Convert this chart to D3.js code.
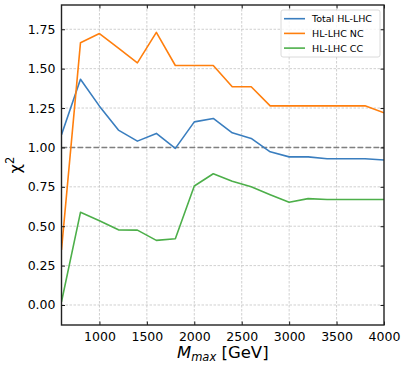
<!DOCTYPE html>
<html>
<head>
<meta charset="utf-8">
<script src="https://cdn.jsdelivr.net/npm/d3@7"></script>
<style>
  body { margin: 0; background: #fff; }
  text { font-family: "DejaVu Sans", sans-serif; }
</style>
</head>
<body>
<div id="chart"></div>
<script>
const mMax = [600, 800, 1000, 1200, 1400, 1600, 1800, 2000, 2200, 2400, 2600, 2800, 3000, 3200, 3400, 3600, 3800, 4000];
const totalHL = [1.08, 1.433, 1.262, 1.11, 1.04, 1.089, 0.994, 1.162, 1.184, 1.093, 1.057, 0.972, 0.94, 0.94, 0.928, 0.928, 0.928, 0.92];
const hlNC = [0.35, 1.664, 1.723, 1.63, 1.537, 1.73, 1.52, 1.52, 1.52, 1.385, 1.385, 1.264, 1.264, 1.264, 1.264, 1.264, 1.264, 1.22];
const hlCC = [0.02, 0.588, 0.535, 0.477, 0.475, 0.41, 0.42, 0.755, 0.833, 0.785, 0.75, 0.70, 0.652, 0.675, 0.67, 0.67, 0.67, 0.67];
const xTicks = [1000, 1500, 2000, 2500, 3000, 3500, 4000];
const yTicks = [0, 0.25, 0.5, 0.75, 1.0, 1.25, 1.5, 1.75];

const series = [
  { name: "Total HL-LHC", values: totalHL, color: "#3a7ebf" },
  { name: "HL-LHC NC", values: hlNC, color: "#ff7f0e" },
  { name: "HL-LHC CC", values: hlCC, color: "#4daf4a" }
];

const W = 407, H = 368;
const margin = { left: 61.5, right: 23, top: 5, bottom: 43 };
const iw = W - margin.left - margin.right;
const ih = H - margin.top - margin.bottom;

const svg = d3.select("#chart").append("svg")
  .attr("width", W).attr("height", H);
const g = svg.append("g").attr("transform", `translate(${margin.left},${margin.top})`);

const x = d3.scaleLinear().domain([600, 4000]).range([0, iw]);
const y = d3.scaleLinear().domain([-0.127, 1.904]).range([ih, 0]);

// grid
g.append("g").selectAll("line").data(xTicks.filter(d => d < 4000)).enter().append("line")
  .attr("x1", d => x(d)).attr("x2", d => x(d)).attr("y1", 0).attr("y2", ih)
  .attr("stroke", "#c4c4c4").attr("stroke-width", 0.8).attr("stroke-dasharray", "2.5,1.5");
g.append("g").selectAll("line").data(yTicks).enter().append("line")
  .attr("x1", 0).attr("x2", iw).attr("y1", d => y(d)).attr("y2", d => y(d))
  .attr("stroke", "#c4c4c4").attr("stroke-width", 0.8).attr("stroke-dasharray", "2.5,1.5");

// reference line at 1
g.append("line")
  .attr("x1", 0).attr("x2", iw).attr("y1", y(1)).attr("y2", y(1))
  .attr("stroke", "#808080").attr("stroke-width", 1.5).attr("stroke-dasharray", "5.5,2.5");

svg.append("defs").append("clipPath").attr("id", "clip")
  .append("rect").attr("width", iw).attr("height", ih);

const line = d3.line().x((d, i) => x(mMax[i])).y(d => y(d));
g.append("g").attr("clip-path", "url(#clip)").selectAll("path").data(series).enter().append("path")
  .attr("d", d => line(d.values))
  .attr("fill", "none")
  .attr("stroke", d => d.color)
  .attr("stroke-width", 1.6)
  .attr("stroke-linejoin", "round");

// axes with inward ticks
const xAxis = g.append("g").attr("transform", `translate(0,${ih})`)
  .call(d3.axisBottom(x).tickValues(xTicks).tickSizeInner(-3.5).tickSizeOuter(0).tickPadding(7)
    .tickFormat(d3.format("d")));
const xTop = g.append("g")
  .call(d3.axisTop(x).tickValues(xTicks).tickSizeInner(-3.5).tickSizeOuter(0).tickFormat(""));
const yAxis = g.append("g")
  .call(d3.axisLeft(y).tickValues(yTicks).tickSizeInner(-3.5).tickSizeOuter(0).tickPadding(6)
    .tickFormat(d3.format(".2f")));
const yRight = g.append("g").attr("transform", `translate(${iw},0)`)
  .call(d3.axisRight(y).tickValues(yTicks).tickSizeInner(-3.5).tickSizeOuter(0).tickFormat(""));

[xAxis, xTop, yAxis, yRight].forEach(a => {
  a.select(".domain").remove();
  a.selectAll(".tick line").attr("stroke", "#000").attr("stroke-width", 0.9);
  a.selectAll("text").attr("font-size", 12.5).attr("fill", "#000")
    .style("font-family", "DejaVu Sans");
});

// frame
g.append("rect").attr("width", iw).attr("height", ih)
  .attr("fill", "none").attr("stroke", "#222").attr("stroke-width", 1.4);

// axis labels
const xl = svg.append("text")
  .attr("x", margin.left + iw / 2).attr("y", 358)
  .attr("text-anchor", "middle").attr("font-size", 16.5);
xl.append("tspan").attr("font-style", "italic").text("M");
xl.append("tspan").attr("font-style", "italic").attr("font-size", 11.5).attr("dy", 3).text("max");
xl.append("tspan").attr("dy", -3).text(" [GeV]");

const yl = svg.append("text")
  .attr("transform", `translate(21,${margin.top + ih / 2}) rotate(-90)`)
  .attr("text-anchor", "middle").attr("font-size", 16.5);
yl.append("tspan").text("χ");
yl.append("tspan").attr("font-size", 11.5).attr("dy", -7).text("2");

// legend
const lg = svg.append("g").attr("transform", "translate(281,10)");
lg.append("rect").attr("width", 99).attr("height", 47).attr("rx", 2)
  .attr("fill", "#fff").attr("fill-opacity", 0.8).attr("stroke", "#d0d0d0").attr("stroke-width", 0.8);
series.forEach((s, i) => {
  const yy = 8.7 + i * 14.7;
  lg.append("line").attr("x1", 3).attr("x2", 24).attr("y1", yy).attr("y2", yy)
    .attr("stroke", s.color).attr("stroke-width", 1.6);
  lg.append("text").attr("x", 31).attr("y", yy + 3.4).attr("font-size", 9.5).text(s.name);
});
</script>
</body>
</html>
